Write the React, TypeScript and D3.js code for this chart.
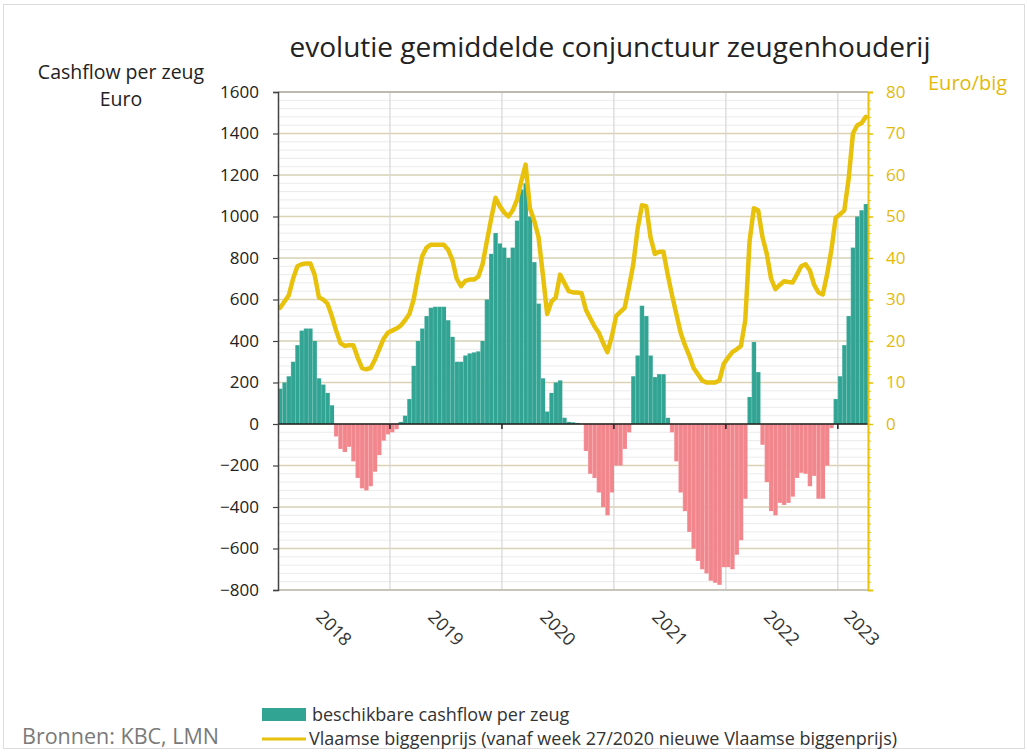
import * as d3 from 'd3';
import React, { useEffect, useRef } from 'react';

// biweekly periods, 26 per year, starting with 2018
const cashflow = [
  170, 200, 230, 300, 380, 450, 460, 460, 400, 220, 190, 150, 90, -60, -120, -135,
  -110, -180, -260, -310, -320, -300, -230, -150, -80, -50, -40, -25, 10, 40, 120, 280,
  400, 460, 520, 560, 565, 565, 565, 500, 420, 300, 300, 330, 340, 345, 350, 400,
  600, 820, 920, 870, 850, 800, 850, 980, 1130, 1160, 1000, 780, 580, 220, 60, 150,
  200, 210, 30, 10, 8, 5, 0, -130, -240, -260, -330, -400, -440, -330, -200, -200,
  -120, -40, 230, 330, 570, 520, 330, 226, 240, 240, 30, -40, -180, -330, -420, -520,
  -600, -660, -700, -720, -755, -765, -775, -690, -690, -700, -630, -560, -360, 130, 395, 250,
  -100, -280, -420, -440, -380, -390, -380, -350, -260, -235, -240, -300, -250, -360, -360, -200,
  -20, 120, 230, 380, 520, 850, 1000, 1030, 1060,
];

const biggenprijs = [
  28, 29.5, 31, 35, 38, 38.5, 38.7, 38.7, 36, 30.5, 30, 29, 26, 22.5, 19.5, 18.8,
  19, 19, 16, 13.5, 13.2, 13.5, 15.5, 18, 20.5, 22, 22.5, 23, 23.7, 25, 26.5, 30,
  35.6, 40.5, 42.5, 43.2, 43.2, 43.2, 43.2, 42, 39.5, 35, 33.2, 34.5, 34.8, 34.8, 35.5, 38.5,
  44, 49.5, 54.5, 52.5, 51, 50, 51.5, 54, 58.5, 62.5, 52, 49, 45, 36, 26.5, 29.5,
  30.5, 36, 34, 32, 31.7, 31.7, 31.5, 27.5, 25.5, 23.5, 22, 19.5, 17.3, 21, 26, 27,
  28, 33, 38.5, 47, 52.7, 52.5, 45, 41, 41.5, 41.5, 36, 31, 26.5, 22, 19, 16.5,
  13.5, 12, 10.5, 10, 10, 10, 10.5, 14.5, 16, 17.3, 18, 18.8, 25, 44, 52, 51.5,
  45, 41, 35, 32.5, 33.5, 34.4, 34.2, 34.1, 36, 38, 38.5, 37, 33.5, 31.7, 31.2, 36,
  42, 49.7, 50.5, 51.5, 59, 70, 72, 72.5, 74,
];

const years = ['2018', '2019', '2020', '2021', '2022', '2023'];
const periodsPerYear = 26;
const leftTicks = [-800, -600, -400, -200, 0, 200, 400, 600, 800, 1000, 1200, 1400, 1600];
const rightTicks = [0, 10, 20, 30, 40, 50, 60, 70, 80];

const W = 1027;
const H = 753;
const left = 278;
const right = 868;
const top = 92;
const bottom = 590;

const TEAL = '#31a493';
const PINK = '#f2868d';
const GOLD = '#e8c10c';
const FONT = "'Open Sans', sans-serif";

const Chart = () => {
  const svgRef = useRef(null);

  const renderSvg = () => {
    const svg = d3.select(svgRef.current);
    svg.selectAll('*').remove();

    const n = cashflow.length;
    const x = d3.scaleLinear().domain([0, n]).range([left, right]);
    const y = d3.scaleLinear().domain([-800, 1600]).range([bottom, top]);
    const y2 = d3.scaleLinear().domain([-40, 80]).range([bottom, top]);
    const step = x(1) - x(0);

    svg.append('rect').attr('width', W).attr('height', H).attr('fill', '#fff');
    svg
      .append('rect')
      .attr('x', 3.5)
      .attr('y', 4.5)
      .attr('width', W - 6)
      .attr('height', H - 9)
      .attr('fill', 'none')
      .attr('stroke', '#dcdcdc');

    // minor horizontal grid
    svg
      .append('g')
      .selectAll('line')
      .data(d3.range(-800, 1601, 40))
      .enter()
      .append('line')
      .attr('x1', left)
      .attr('x2', right)
      .attr('y1', (d) => y(d))
      .attr('y2', (d) => y(d))
      .attr('stroke', '#ebebeb')
      .attr('stroke-width', 1);

    // major horizontal grid
    svg
      .append('g')
      .selectAll('line')
      .data(leftTicks)
      .enter()
      .append('line')
      .attr('x1', left)
      .attr('x2', right)
      .attr('y1', (d) => y(d))
      .attr('y2', (d) => y(d))
      .attr('stroke', '#d9d3b4')
      .attr('stroke-width', 1.5);

    // year gridlines
    const yearStarts = years.map((_, i) => i * periodsPerYear);
    svg
      .append('g')
      .selectAll('line')
      .data(yearStarts.slice(1))
      .enter()
      .append('line')
      .attr('x1', (d) => x(d))
      .attr('x2', (d) => x(d))
      .attr('y1', top)
      .attr('y2', bottom)
      .attr('stroke', '#d6d6d6')
      .attr('stroke-width', 1.2);

    // plot border
    svg
      .append('line')
      .attr('x1', left)
      .attr('x2', right)
      .attr('y1', top)
      .attr('y2', top)
      .attr('stroke', '#9a9a9a')
      .attr('stroke-width', 1.2);
    svg
      .append('line')
      .attr('x1', left)
      .attr('x2', right)
      .attr('y1', bottom)
      .attr('y2', bottom)
      .attr('stroke', '#b0b0b0')
      .attr('stroke-width', 1.2);

    // bars
    svg
      .append('g')
      .selectAll('rect')
      .data(cashflow)
      .enter()
      .append('rect')
      .attr('x', (d, i) => x(i))
      .attr('width', step + 0.1)
      .attr('y', (d) => (d >= 0 ? y(d) : y(0)))
      .attr('height', (d) => Math.abs(y(d) - y(0)))
      .attr('fill', (d) => (d >= 0 ? TEAL : PINK));

    // faint separators between bars
    svg
      .append('g')
      .selectAll('line')
      .data(cashflow)
      .enter()
      .append('line')
      .attr('x1', (d, i) => x(i) + 0.2)
      .attr('x2', (d, i) => x(i) + 0.2)
      .attr('y1', (d) => y(d))
      .attr('y2', y(0))
      .attr('stroke', '#fff')
      .attr('stroke-opacity', 0.25)
      .attr('stroke-width', 0.6);

    // zero axis
    svg
      .append('line')
      .attr('x1', left)
      .attr('x2', right)
      .attr('y1', y(0))
      .attr('y2', y(0))
      .attr('stroke', '#222')
      .attr('stroke-width', 1.6);
    svg
      .append('g')
      .selectAll('line')
      .data(yearStarts.slice(1))
      .enter()
      .append('line')
      .attr('x1', (d) => x(d))
      .attr('x2', (d) => x(d))
      .attr('y1', y(0))
      .attr('y2', y(0) + 5)
      .attr('stroke', '#222')
      .attr('stroke-width', 1.5);

    // price line
    const line = d3
      .line<number>()
      .x((d, i) => x(i + 0.5))
      .y((d) => y2(d));
    svg
      .append('path')
      .datum(biggenprijs)
      .attr('d', line)
      .attr('fill', 'none')
      .attr('stroke', GOLD)
      .attr('stroke-width', 4.5)
      .attr('stroke-linejoin', 'round')
      .attr('stroke-linecap', 'round');

    // left axis
    const gl = svg
      .append('g')
      .attr('transform', `translate(${left},0)`)
      .call(
        d3
          .axisLeft(y)
          .tickValues(leftTicks)
          .tickFormat(d3.format('d'))
          .tickSize(5)
          .tickPadding(14)
      );
    gl.select('.domain').attr('stroke', '#444').attr('stroke-width', 1.5);
    gl.selectAll('.tick line').attr('stroke', '#444').attr('stroke-width', 1.2);
    gl.selectAll('.tick text')
      .attr('fill', '#222')
      .style('font-family', FONT)
      .style('font-size', '17px');

    // right axis
    svg
      .append('g')
      .attr('transform', `translate(${right},0)`)
      .call(d3.axisRight(y2).tickValues(d3.range(-40, 81, 2)).tickSize(3).tickFormat(() => ''))
      .call((g) => g.select('.domain').remove())
      .selectAll('.tick line')
      .attr('stroke', GOLD)
      .attr('stroke-width', 1);
    const gr = svg
      .append('g')
      .attr('transform', `translate(${right},0)`)
      .call(d3.axisRight(y2).tickValues(rightTicks).tickSize(5).tickPadding(13));
    gr.select('.domain').attr('stroke', GOLD).attr('stroke-width', 2);
    gr.selectAll('.tick line').attr('stroke', GOLD).attr('stroke-width', 1.5);
    gr.selectAll('.tick text')
      .attr('fill', '#e3b90a')
      .style('font-family', FONT)
      .style('font-size', '17px');

    // year labels
    svg
      .append('g')
      .selectAll('text')
      .data(years)
      .enter()
      .append('text')
      .attr('transform', (d, i) => {
        const cx = (x(yearStarts[i]) + x(Math.min(yearStarts[i] + periodsPerYear, n))) / 2;
        return `translate(${i === years.length - 1 ? cx + 9 : cx},628) rotate(45)`;
      })
      .attr('text-anchor', 'middle')
      .attr('dy', '0.35em')
      .attr('fill', '#333')
      .style('font-family', FONT)
      .style('font-size', '18px')
      .text((d) => d);

    // titles
    svg
      .append('text')
      .attr('x', 610)
      .attr('y', 57)
      .attr('text-anchor', 'middle')
      .attr('fill', '#222')
      .style('font-family', FONT)
      .style('font-size', '28px')
      .text('evolutie gemiddelde conjunctuur zeugenhouderij');

    svg
      .append('text')
      .attr('x', 121)
      .attr('y', 79)
      .attr('text-anchor', 'middle')
      .attr('fill', '#222')
      .style('font-family', FONT)
      .style('font-size', '19.5px')
      .text('Cashflow per zeug');
    svg
      .append('text')
      .attr('x', 121)
      .attr('y', 106)
      .attr('text-anchor', 'middle')
      .attr('fill', '#222')
      .style('font-family', FONT)
      .style('font-size', '19.5px')
      .text('Euro');
    svg
      .append('text')
      .attr('x', 928)
      .attr('y', 90)
      .attr('fill', '#e3b90a')
      .style('font-family', FONT)
      .style('font-size', '20px')
      .text('Euro/big');

    // legend
    svg
      .append('rect')
      .attr('x', 262)
      .attr('y', 708)
      .attr('width', 44)
      .attr('height', 13)
      .attr('fill', TEAL);
    svg
      .append('text')
      .attr('x', 312)
      .attr('y', 721)
      .attr('fill', '#333')
      .style('font-family', FONT)
      .style('font-size', '18px')
      .text('beschikbare cashflow per zeug');
    svg
      .append('line')
      .attr('x1', 262)
      .attr('x2', 306)
      .attr('y1', 739)
      .attr('y2', 739)
      .attr('stroke', GOLD)
      .attr('stroke-width', 3);
    svg
      .append('text')
      .attr('x', 309)
      .attr('y', 745)
      .attr('fill', '#333')
      .style('font-family', FONT)
      .style('font-size', '18px')
      .text('Vlaamse biggenprijs (vanaf week 27/2020 nieuwe Vlaamse biggenprijs)');

    svg
      .append('text')
      .attr('x', 22)
      .attr('y', 744)
      .attr('fill', '#7a7a7a')
      .style('font-family', FONT)
      .style('font-size', '21.5px')
      .text('Bronnen: KBC, LMN');
  };

  useEffect(() => {
    renderSvg();
  }, []);

  return (
    <svg
      ref={svgRef}
      width={W}
      height={H}
      style={{ position: 'absolute', left: 0, top: 0 }}
    />
  );
};

export default function App() {
  return <Chart />;
}
